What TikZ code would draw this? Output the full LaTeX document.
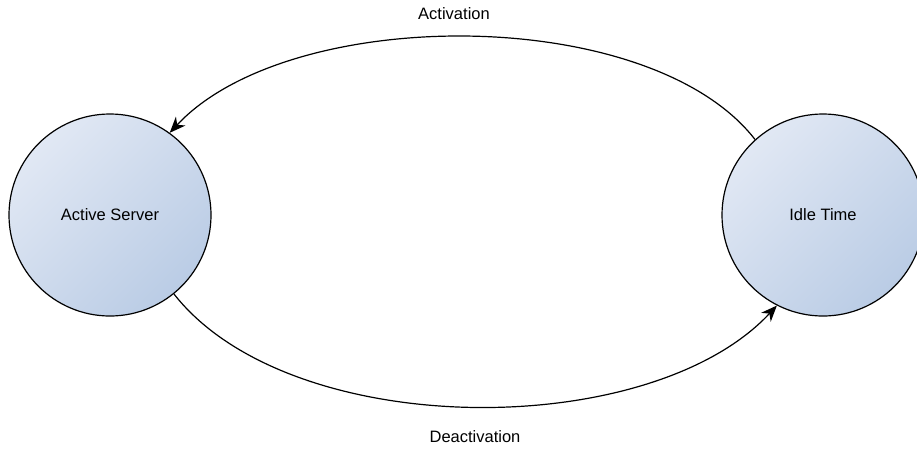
\documentclass[tikz,border=0pt]{standalone}
\usepackage{fontspec}
\setmainfont{Liberation Sans}
\usetikzlibrary{arrows.meta}
\definecolor{lightfill}{HTML}{E1E8F4}
\definecolor{darkfill}{HTML}{BACCE5}
\tikzset{
  statenode/.style={circle, draw=black, line width=1.2pt, minimum size=202pt, inner sep=0pt,
    top color=lightfill, bottom color=darkfill, shading angle=45,
    font=\fontsize{16.5}{19}\selectfont},
  flow/.style={draw=black, line width=1.2pt, -{Stealth[length=16pt,width=13pt,inset=5pt]}},
  lbl/.style={font=\fontsize{16.5}{19}\selectfont, inner sep=0pt}
}
\begin{document}
\begin{tikzpicture}[x=1pt,y=-1pt]
\useasboundingbox (0,0) rectangle (917,448);
\clip (0,0) rectangle (917,448);
\node[statenode] (active) at (110,215) {Active Server};
\node[statenode] (idle) at (823,215) {Idle Time};
\draw[flow] (idle.132) .. controls (650,4) and (290,4) .. (active.54);
\draw[flow] (active.-51) .. controls (290,442) and (650,442) .. (idle.-117);
\node[lbl] (act) at (454,14) {Activation};
\node[lbl] (deact) at (475,437) {Deactivation};
\end{tikzpicture}
\end{document}
